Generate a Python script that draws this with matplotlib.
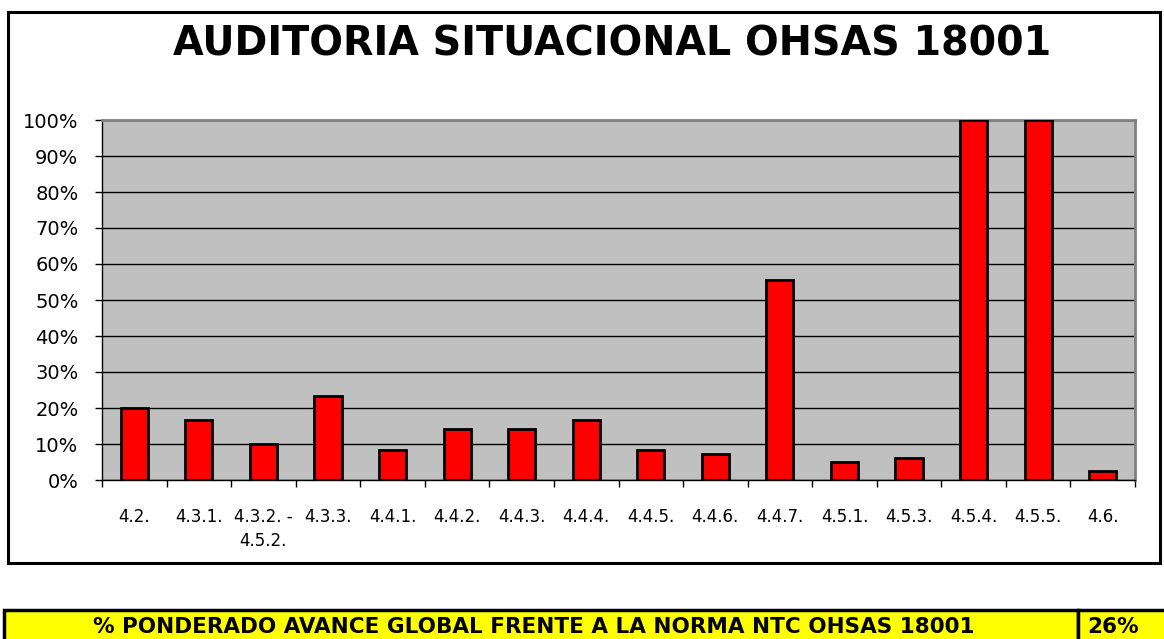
import matplotlib
matplotlib.use('Agg')
import matplotlib.pyplot as plt
import numpy as np
from matplotlib.patches import Rectangle
from matplotlib.ticker import PercentFormatter, FixedLocator

# datos
categorias = ['4.2.', '4.3.1.', '4.3.2. -\n4.5.2.', '4.3.3.', '4.4.1.', '4.4.2.',
              '4.4.3.', '4.4.4.', '4.4.5.', '4.4.6.', '4.4.7.', '4.5.1.',
              '4.5.3.', '4.5.4.', '4.5.5.', '4.6.']
avance = [0.20, 0.167, 0.10, 0.233, 0.083, 0.143, 0.143, 0.167, 0.083, 0.071,
          0.556, 0.05, 0.0625, 1.00, 1.00, 0.025]
titulo = 'AUDITORIA SITUACIONAL OHSAS 18001'
texto_global = '% PONDERADO AVANCE GLOBAL FRENTE A LA NORMA NTC OHSAS 18001'
valor_global = '26%'

plt.rcParams['font.family'] = ['DejaVu Sans']

fig = plt.figure(figsize=(11.64, 6.39), dpi=100)
W, H = 1164, 639

# marco exterior del grafico
fig.patches.append(Rectangle((8 / W, 1 - 563 / H), 1152 / W, 551 / H,
                             transform=fig.transFigure, fill=False,
                             edgecolor='black', linewidth=2.2))

ax = fig.add_axes([102 / W, 1 - 480 / H, 1033 / W, 360 / H])
ax.set_facecolor('#C0C0C0')
x = np.arange(len(categorias))
ax.bar(x, avance, width=0.42, color='#FF0000', edgecolor='black', linewidth=2, zorder=3)

ax.set_xlim(-0.5, len(categorias) - 0.5)
ax.set_ylim(0, 1)
ax.yaxis.set_major_locator(FixedLocator(np.arange(0, 1.01, 0.1)))
ax.yaxis.set_major_formatter(PercentFormatter(1.0, decimals=0))
ax.grid(axis='y', color='black', linewidth=1, zorder=1)
ax.set_xticks(x)
ax.set_xticklabels(categorias, fontsize=12, linespacing=1.45)
ax.set_xticks(np.arange(-0.5, len(categorias), 1), minor=True)
ax.tick_params(axis='x', which='major', length=0, pad=20)
ax.tick_params(axis='x', which='minor', length=5, direction='out', width=1)
ax.tick_params(axis='y', length=5, width=1, labelsize=14, pad=12)
for s in ['top', 'right']:
    ax.spines[s].set_color('#808080')
    ax.spines[s].set_linewidth(2)
for s in ['left', 'bottom']:
    ax.spines[s].set_color('black')
    ax.spines[s].set_linewidth(1)

fig.text(612 / W, 1 - 45 / H, titulo, ha='center', va='center',
         fontsize=28.5, fontweight='bold')

# recuadro amarillo con el avance global
fig.patches.append(Rectangle((4 / W, -0.05), 1074 / W, 0.05 + (639 - 610) / H,
                             transform=fig.transFigure, facecolor='#FFFF00',
                             edgecolor='black', linewidth=2.5))
fig.patches.append(Rectangle((1078 / W, -0.05), 100 / W, 0.05 + (639 - 610) / H,
                             transform=fig.transFigure, facecolor='#FFFF00',
                             edgecolor='black', linewidth=2.5))
fig.text(534 / W, 1 - 627 / H, texto_global, ha='center', va='center',
         fontsize=15.5, fontweight='bold')
fig.text(1113 / W, 1 - 627 / H, valor_global, ha='center', va='center',
         fontsize=15.5, fontweight='bold')

fig.savefig('out.png', dpi=100)
